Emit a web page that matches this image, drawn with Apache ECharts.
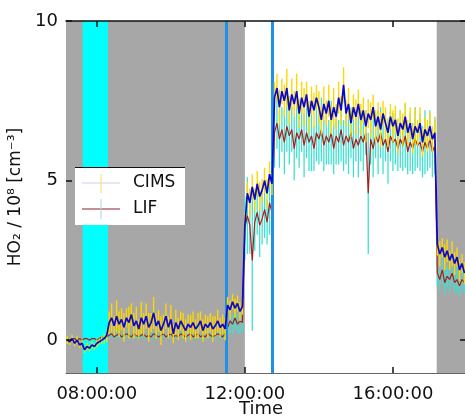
<!DOCTYPE html>
<html>
<head>
<meta charset="utf-8">
<script src="https://cdn.jsdelivr.net/npm/echarts@6/dist/echarts.min.js"></script>
<style>html,body{margin:0;padding:0;background:#fff}#c{width:465px;height:418px}</style>
</head>
<body>
<div id="c"></div>
<script>
// ---- data (time in minutes since midnight, 4-min sampling starting 07:12) ----
const tStart = 432, tStep = 4;
const xTickValues = [480, 720, 960];          // 08:00, 12:00, 16:00
const yTickValues = [0, 5, 10];
const grayPeriods = [[430, 720], [1031, 1079]];
const cyanPeriod = [457, 498];
const blueMarkers = [689, 765];

const cims = [
  // 07:12 - 07:56
  0.0, -0.05, 0.05, -0.1, 0.0, -0.15, -0.1, -0.3, -0.2, -0.25, -0.15, -0.2, -0.1, -0.05, 0.0, 0.05, 0.15,
  // 08:20 - 11:28
  0.55, 0.7, 0.45, 0.75, 0.5, 0.65, 0.4, 0.7,
  0.55, 0.8, 0.45, 0.6, 0.35, 0.7, 0.5, 0.75,
  0.4, 0.55, 0.85, 0.45, 0.6, 0.3, 0.5, 0.75,
  0.4, 0.65, 0.2, 0.55, 0.35, 0.6, 0.45, 0.3,
  0.5, 0.4, 0.55, 0.35, 0.45, 0.6, 0.3, 0.5,
  0.4, 0.55, 0.35, 0.45, 0.6, 0.4, 0.5, 0.35,
  // 11:32 - 11:56
  1.1, 0.95, 1.2, 1.0, 1.15, 0.9, 1.05,
  // 12:00 - 12:44
  3.6, 4.6, 4.3, 4.8, 4.4, 4.9, 4.5, 4.7, 5.0, 4.6, 5.2, 4.9,
  // 12:48 - 17:08
  7.6, 7.9, 7.3, 7.8, 7.5, 7.9, 7.2, 7.7, 7.4, 7.8,
  7.1, 7.6, 7.3, 7.7, 7.0, 7.5, 7.2, 7.6, 7.3, 6.9,
  7.4, 7.1, 7.5, 6.9, 7.3, 7.0, 7.6, 7.2, 8.0, 7.1,
  7.4, 6.8, 7.3, 7.0, 7.4, 6.9, 7.2, 6.7, 7.1, 6.9,
  7.3, 6.7, 7.0, 6.6, 7.1, 6.8, 6.5, 7.0, 6.7, 6.9,
  6.4, 6.8, 6.6, 7.0, 6.5, 6.8, 6.3, 6.7, 6.5, 6.8,
  6.2, 6.6, 6.4, 6.7, 6.3, 6.5,
  // 17:12 - 17:56
  3.0, 2.7, 2.9, 2.6, 2.8, 2.5, 2.7, 2.4, 2.6, 2.2, 2.4, 2.1
];
const cimsErr = [
  0.12, 0.1, 0.12, 0.1, 0.12, 0.1, 0.12, 0.1, 0.12, 0.1, 0.12, 0.1, 0.12, 0.1, 0.12, 0.15, 0.2,
  0.35, 0.45, 0.3, 0.5, 0.4, 0.35, 0.45, 0.3,
  0.5, 0.35, 0.4, 0.45, 0.3, 0.5, 0.35, 0.4,
  0.45, 0.3, 0.5, 0.4, 0.35, 0.45, 0.3, 0.4,
  0.35, 0.45, 0.3, 0.4, 0.35, 0.3, 0.4, 0.35,
  0.3, 0.4, 0.35, 0.3, 0.4, 0.3, 0.35, 0.3,
  0.35, 0.3, 0.4, 0.3, 0.35, 0.3, 0.3, 0.35,
  0.25, 0.3, 0.25, 0.3, 0.25, 0.3, 0.25,
  0.4, 0.35, 0.45, 0.4, 0.35, 0.4, 0.45, 0.35, 0.4, 0.45, 0.4, 0.35,
  0.5, 0.45, 0.55, 0.4, 0.5, 0.6, 0.45, 0.5, 0.4, 0.55,
  0.45, 0.5, 0.6, 0.4, 0.5, 0.45, 0.55, 0.4, 0.5, 0.45,
  0.55, 0.4, 0.5, 0.45, 0.6, 0.4, 0.5, 0.45, 0.55, 0.4,
  0.5, 0.45, 0.4, 0.55, 0.45, 0.5, 0.4, 0.5, 0.45, 0.55,
  0.4, 0.5, 0.45, 0.55, 0.4, 0.5, 0.45, 0.4, 0.5, 0.45,
  0.55, 0.4, 0.5, 0.45, 0.4, 0.5, 0.45, 0.55, 0.4, 0.5,
  0.45, 0.4, 0.5, 0.45, 0.4, 0.45,
  0.35, 0.4, 0.3, 0.4, 0.35, 0.3, 0.4, 0.35, 0.3, 0.35, 0.3, 0.35
];
const lif = [
  0.05, 0.0, 0.05, 0.05, 0.0, 0.05, 0.0, 0.05, 0.05, 0.0, 0.05, 0.05, 0.0, 0.05, 0.1, 0.05, 0.1,
  0.15, 0.2, 0.1, 0.15, 0.2, 0.1, 0.15, 0.2,
  0.15, 0.1, 0.2, 0.15, 0.1, 0.15, 0.2, 0.1,
  0.15, 0.1, 0.2, 0.15, 0.1, 0.15, 0.2, 0.1,
  0.15, 0.2, 0.1, 0.15, 0.1, 0.2, 0.15, 0.1,
  0.15, 0.2, 0.1, 0.15, 0.2, 0.1, 0.15, 0.1,
  0.2, 0.15, 0.1, 0.15, 0.2, 0.15, 0.1, 0.2,
  0.4, 0.6, 0.5, 0.7, 0.5, 0.6, 0.55,
  3.5, 3.9, 3.6, 2.5, 3.7, 4.0, 3.6, 3.8, 4.1, 3.7, 4.3, 4.0,
  6.5, 6.8, 6.3, 6.6, 6.2, 6.7, 6.4, 6.6, 6.0, 6.5,
  6.3, 6.6, 6.1, 6.5, 6.2, 6.4, 6.0, 6.5, 6.3, 6.6,
  6.1, 6.4, 6.2, 6.5, 6.0, 6.4, 6.2, 6.6, 6.1, 6.4,
  6.2, 6.5, 6.0, 6.3, 6.1, 6.4, 6.2, 6.5, 4.6, 6.3,
  6.0, 6.4, 6.2, 6.5, 6.1, 6.3, 5.9, 6.4, 6.2, 6.3,
  6.0, 6.3, 6.1, 6.4, 5.9, 6.2, 6.0, 6.3, 6.1, 6.2,
  5.9, 6.2, 6.0, 6.3, 5.9, 6.1,
  2.1, 1.9, 2.2, 1.8, 2.0, 1.9, 2.1, 1.8, 1.9, 1.7, 1.9, 1.8
];
const lifErr = [
  0.05, 0.05, 0.05, 0.05, 0.05, 0.05, 0.05, 0.05, 0.05, 0.05, 0.05, 0.05, 0.05, 0.05, 0.05, 0.05, 0.05,
  0.1, 0.12, 0.08, 0.1, 0.12, 0.08, 0.1, 0.12,
  0.1, 0.08, 0.12, 0.1, 0.08, 0.1, 0.12, 0.08,
  0.1, 0.08, 0.12, 0.1, 0.08, 0.1, 0.12, 0.08,
  0.1, 0.12, 0.08, 0.1, 0.08, 0.12, 0.1, 0.08,
  0.1, 0.12, 0.08, 0.1, 0.12, 0.08, 0.1, 0.08,
  0.12, 0.1, 0.08, 0.1, 0.12, 0.1, 0.08, 0.12,
  0.3, 0.4, 0.3, 0.35, 0.3, 0.4, 0.3,
  1.0, 1.2, 0.9, 2.2, 0.9, 0.7, 1.0, 0.8, 0.9, 0.7, 1.0, 0.8,
  1.1, 0.8, 0.9, 0.7, 1.0, 0.8, 0.9, 0.7, 1.0, 0.8,
  0.9, 0.7, 1.0, 0.8, 0.9, 1.1, 0.7, 0.9, 0.8, 1.0,
  0.8, 0.9, 0.7, 1.0, 0.8, 0.9, 0.7, 1.0, 0.8, 0.9,
  1.0, 0.8, 0.9, 0.7, 1.0, 0.8, 0.9, 0.7, 1.9, 0.8,
  0.9, 0.7, 1.0, 0.8, 0.9, 0.7, 1.0, 0.8, 0.9, 0.8,
  0.7, 0.9, 0.8, 1.0, 0.7, 0.9, 0.8, 1.0, 0.7, 0.9,
  0.8, 1.0, 0.7, 0.9, 0.8, 0.9,
  0.4, 0.35, 0.45, 0.4, 0.35, 0.4, 0.45, 0.35, 0.4, 0.35, 0.4, 0.35
];

// ---- build ----
const times = cims.map((_, i) => tStart + i * tStep);
const FONT = 'DejaVu Sans';
const C_CIMS = '#0a0ac8', C_CIMS_ERR = '#ffd700', C_LIF = '#a52020', C_LIF_ERR = '#40e0d0';

function fmtTime(v) {
  const h = Math.floor(v / 60), m = Math.round(v % 60);
  return String(h).padStart(2, '0') + ':' + String(m).padStart(2, '0') + ':00';
}
function errSeries(name, vals, errs, color, width, z) {
  return {
    type: 'custom', name: name, z: z, silent: true, clip: true,
    renderItem: function (params, api) {
      const t = api.value(0), v = api.value(1), e = api.value(2);
      const p1 = api.coord([t, v - e]), p2 = api.coord([t, v + e]);
      return { type: 'line', shape: { x1: p1[0], y1: p1[1], x2: p2[0], y2: p2[1] },
               style: { stroke: color, lineWidth: width } };
    },
    encode: { x: 0, y: 1 },
    data: times.map((t, i) => [t, vals[i], errs[i]])
  };
}

const chart = echarts.init(document.getElementById('c'), null, { renderer: 'canvas' });
const xCommon = { type: 'value', min: 430, max: 1078.5, splitLine: { show: false } };
const yCommon = { type: 'value', min: -1.03, max: 10, splitLine: { show: false } };

chart.setOption({
  animation: false,
  backgroundColor: '#fff',
  grid: { left: 66, top: 21, right: -1, bottom: 45, containLabel: false, outerBoundsMode: 'none' },
  xAxis: [
    Object.assign({}, xCommon, {
      position: 'bottom', z: 10,
      name: 'Time', nameLocation: 'middle', nameGap: 27, nameMoveOverlap: false,
      nameTextStyle: { fontFamily: FONT, fontSize: 18, color: '#111', padding: [0, 10, 0, 0] },
      axisLine: { show: true, onZero: false, lineStyle: { color: '#666', width: 1 } },
      axisTick: { show: true, inside: true, length: 6, customValues: xTickValues, lineStyle: { color: '#111', width: 1.5 } },
      axisLabel: { show: true, customValues: xTickValues, formatter: fmtTime, margin: 12,
                   fontFamily: FONT, fontSize: 18, color: '#111' }
    }),
    Object.assign({}, xCommon, {
      position: 'top', z: 10,
      axisLine: { show: true, onZero: false, lineStyle: { color: '#111', width: 1.5 } },
      axisTick: { show: true, inside: true, length: 6, customValues: xTickValues, lineStyle: { color: '#111', width: 1.5 } },
      axisLabel: { show: false }
    })
  ],
  yAxis: [
    Object.assign({}, yCommon, {
      position: 'left', z: 10,
      name: 'HO\u2082 / 10\u2078 [cm\u207B\u00B3]', nameLocation: 'middle', nameGap: 32,
      nameTextStyle: { fontFamily: FONT, fontSize: 17, color: '#111' },
      axisLine: { show: false, onZero: false },
      axisTick: { show: true, inside: true, length: 6, customValues: yTickValues, lineStyle: { color: '#111', width: 1.5 } },
      axisLabel: { show: true, customValues: yTickValues, margin: 8, fontFamily: FONT, fontSize: 18, color: '#111' }
    }),
    Object.assign({}, yCommon, {
      position: 'right', z: 10,
      axisLine: { show: true, onZero: false, lineStyle: { color: '#111', width: 1 } },
      axisTick: { show: true, inside: true, length: 6, customValues: yTickValues, lineStyle: { color: '#111', width: 1.5 } },
      axisLabel: { show: false }
    })
  ],
  series: [
    {
      type: 'line', name: 'bg', data: [], z: 1, silent: true,
      markArea: {
        silent: true,
        data: grayPeriods.map(p => [{ xAxis: p[0], itemStyle: { color: '#a7a7a7' } }, { xAxis: p[1] }])
          .concat([[{ xAxis: cyanPeriod[0], itemStyle: { color: '#00ffff' } }, { xAxis: cyanPeriod[1] }]])
      },
      markLine: {
        silent: true, symbol: 'none', label: { show: false },
        lineStyle: { color: '#1e90e8', width: 3, type: 'solid' },
        data: blueMarkers.map(v => ({ xAxis: v }))
      }
    },
    errSeries('LIF err', lif, lifErr, C_LIF_ERR, 1.3, 3),
    { type: 'line', name: 'LIF', z: 4, data: times.map((t, i) => [t, lif[i]]), showSymbol: false, silent: true,
      lineStyle: { color: C_LIF, width: 1.2 } },
    errSeries('CIMS err', cims, cimsErr, C_CIMS_ERR, 1.4, 5),
    { type: 'line', name: 'CIMS', z: 6, data: times.map((t, i) => [t, cims[i]]), showSymbol: false, silent: true,
      lineStyle: { color: C_CIMS, width: 1.7 } }
  ],
  graphic: [
    { type: 'rect', shape: { x: 75, y: 167, width: 110, height: 58 }, style: { fill: '#fff' }, z: 20 },
    { type: 'line', shape: { x1: 75, y1: 167.5, x2: 185, y2: 167.5 }, style: { stroke: '#111', lineWidth: 1.2 }, z: 21 },
    { type: 'line', shape: { x1: 82, y1: 183, x2: 120, y2: 183 }, style: { stroke: '#c9d3e3', lineWidth: 1 }, z: 21 },
    { type: 'line', shape: { x1: 101, y1: 174, x2: 101, y2: 193 }, style: { stroke: '#f2e060', lineWidth: 1 }, z: 21 },
    { type: 'line', shape: { x1: 82, y1: 209, x2: 120, y2: 209 }, style: { stroke: '#8a2030', lineWidth: 1.2 }, z: 21 },
    { type: 'line', shape: { x1: 101, y1: 199, x2: 101, y2: 219 }, style: { stroke: '#a8d8e0', lineWidth: 1 }, z: 21 },
    { type: 'text', x: 133, y: 183, style: { text: 'CIMS', font: '17px "DejaVu Sans"', fill: '#111', verticalAlign: 'middle' }, z: 21 },
    { type: 'text', x: 133, y: 209, style: { text: 'LIF', font: '17px "DejaVu Sans"', fill: '#111', verticalAlign: 'middle' }, z: 21 }
  ]
});
</script>
</body>
</html>
